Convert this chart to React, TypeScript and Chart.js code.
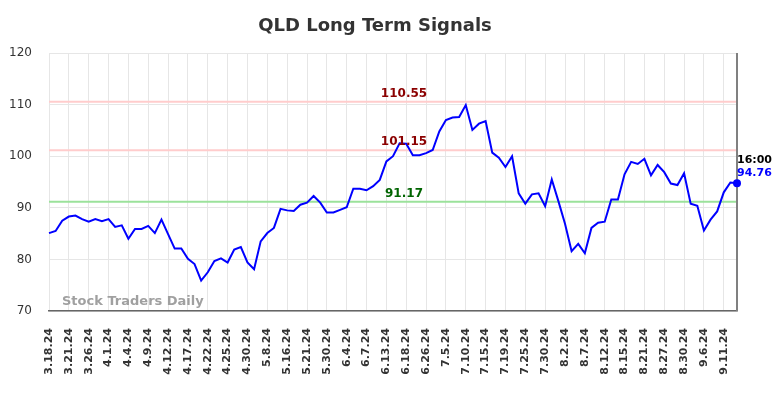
import React, { useEffect, useRef } from "react";
import { Chart, registerables } from "chart.js";

Chart.register(...registerables);

const tickLabels = [
  "3.18.24", "3.21.24", "3.26.24", "4.1.24", "4.4.24", "4.9.24", "4.12.24",
  "4.17.24", "4.22.24", "4.25.24", "4.30.24", "5.8.24", "5.16.24", "5.21.24",
  "5.30.24", "6.4.24", "6.7.24", "6.13.24", "6.18.24", "6.26.24", "7.5.24",
  "7.10.24", "7.15.24", "7.19.24", "7.25.24", "7.30.24", "8.2.24", "8.7.24",
  "8.12.24", "8.15.24", "8.21.24", "8.27.24", "8.30.24", "9.6.24", "9.11.24",
];

const values = [
  85.1, 85.5, 87.5, 88.3, 88.5, 87.8, 87.3, 87.8, 87.4, 87.8,
  86.3, 86.6, 84.0, 85.9, 85.9, 86.5, 85.1, 87.7, 84.9, 82.1,
  82.1, 80.1, 79.1, 75.9, 77.5, 79.7, 80.2, 79.4, 81.9, 82.4,
  79.4, 78.1, 83.5, 85.1, 86.1, 89.8, 89.5, 89.4, 90.6, 91.0,
  92.3, 91.0, 89.1, 89.1, 89.6, 90.1, 93.7, 93.7, 93.4, 94.2,
  95.4, 99.0, 100.0, 102.5, 102.4, 100.2, 100.2, 100.6, 101.2, 104.8,
  107.0, 107.5, 107.6, 109.9, 105.1, 106.3, 106.8, 100.7, 99.7, 97.9,
  100.0, 92.8, 90.8, 92.6, 92.8, 90.3, 95.5, 91.3, 86.9, 81.6,
  83.0, 81.2, 86.1, 87.1, 87.3, 91.6, 91.6, 96.5, 98.9, 98.5,
  99.5, 96.3, 98.3, 96.9, 94.7, 94.4, 96.7, 90.8, 90.4, 85.6,
  87.7, 89.3, 93.0, 94.9, 94.76,
];

const levelValues = [110.55, 101.15, 91.17];
const levelKinds = ["resistance", "resistance", "support"];
const lastTime = "16:00";
const yMin = 70;
const yMax = 120;
const yStep = 10;
const titleText = "QLD Long Term Signals";
const watermarkText = "Stock Traders Daily";

const FONT = "'DejaVu Sans', sans-serif";

export default function App() {
  const ref = useRef<HTMLCanvasElement>(null);

  useEffect(() => {
    document.body.style.margin = "0";
    const labels = values.map((_, i) => (i % 3 === 0 ? tickLabels[i / 3] ?? "" : ""));

    const overlay = {
      id: "overlay",
      beforeDatasetsDraw(chart: any) {
        const { ctx, chartArea } = chart;
        const y = chart.scales.y;
        ctx.save();
        // watermark
        ctx.font = `bold 13px ${FONT}`;
        ctx.fillStyle = "#a0a0a0";
        ctx.textAlign = "left";
        ctx.textBaseline = "middle";
        ctx.fillText(watermarkText, chartArea.left + 13, chartArea.bottom - 9);
        // level lines
        levelValues.forEach((v, k) => {
          const py = y.getPixelForValue(v);
          ctx.strokeStyle = levelKinds[k] === "support" ? "#9be29b" : "#ffcccc";
          ctx.lineWidth = 2;
          ctx.beginPath();
          ctx.moveTo(chartArea.left, py);
          ctx.lineTo(chartArea.right, py);
          ctx.stroke();
        });
        // right border
        ctx.strokeStyle = "#808080";
        ctx.lineWidth = 2;
        ctx.beginPath();
        ctx.moveTo(chartArea.right, chartArea.top);
        ctx.lineTo(chartArea.right, chartArea.bottom);
        ctx.stroke();
        ctx.restore();
      },
      afterDatasetsDraw(chart: any) {
        const { ctx, chartArea } = chart;
        const y = chart.scales.y;
        const x = chart.scales.x;
        ctx.save();
        ctx.font = `bold 12px ${FONT}`;
        ctx.textAlign = "center";
        ctx.textBaseline = "middle";
        const cx = (chartArea.left + chartArea.right) / 2 + 11;
        levelValues.forEach((v, k) => {
          const py = y.getPixelForValue(v);
          ctx.fillStyle = levelKinds[k] === "support" ? "#006400" : "#8b0000";
          ctx.fillText(v.toFixed(2), cx, py - 8);
        });
        const last = values.length - 1;
        const lx = x.getPixelForValue(last);
        const ly = y.getPixelForValue(values[last]);
        ctx.font = `bold 11px ${FONT}`;
        ctx.textAlign = "left";
        ctx.fillStyle = "#000000";
        ctx.fillText(lastTime, lx, ly - 23);
        ctx.fillStyle = "#0000ff";
        ctx.fillText(values[last].toFixed(2), lx, ly - 10);
        // title
        ctx.font = `bold 18px ${FONT}`;
        ctx.fillStyle = "#333333";
        ctx.textAlign = "center";
        ctx.fillText(titleText, 375, 26);
        ctx.restore();
      },
    };

    const chart = new Chart(ref.current as HTMLCanvasElement, {
      type: "line",
      data: {
        labels,
        datasets: [
          {
            data: values,
            borderColor: "#0000ff",
            backgroundColor: "#0000ff",
            borderWidth: 2,
            tension: 0,
            pointRadius: (c: any) => (c.dataIndex === values.length - 1 ? 4 : 0),
            pointBackgroundColor: "#0000ff",
            pointBorderWidth: 0,
          },
        ],
      },
      options: {
        animation: false,
        responsive: true,
        maintainAspectRatio: false,
        layout: { padding: { top: 53, right: 47, left: 0, bottom: 0 } },
        plugins: {
          legend: { display: false },
          tooltip: { enabled: false },
          title: { display: false },
        },
        scales: {
          x: {
            grid: {
              color: (c: any) => (c.index % 3 === 0 ? "#e6e6e6" : "rgba(0,0,0,0)"),
              drawTicks: false,
              lineWidth: 1,
            },
            border: { display: true, color: "#666666", width: 1.5 },
            ticks: {
              autoSkip: false,
              maxRotation: 90,
              minRotation: 90,
              padding: 17,
              color: "#333333",
              font: { family: FONT, size: 11, weight: "bold" },
            },
            afterFit: (s: any) => {
              s.height = 87;
            },
          },
          y: {
            min: yMin,
            max: yMax,
            grid: { color: "#e6e6e6", drawTicks: false },
            border: { display: false },
            ticks: {
              stepSize: yStep,
              padding: 17,
              color: "#333333",
              font: { family: FONT, size: 12 },
            },
            afterFit: (s: any) => {
              s.width = 49;
            },
          },
        },
      },
      plugins: [overlay],
    });
    return () => chart.destroy();
  }, []);

  return (
    <div style={{ position: "relative", width: 784, height: 398 }}>
      <canvas ref={ref} />
    </div>
  );
}
